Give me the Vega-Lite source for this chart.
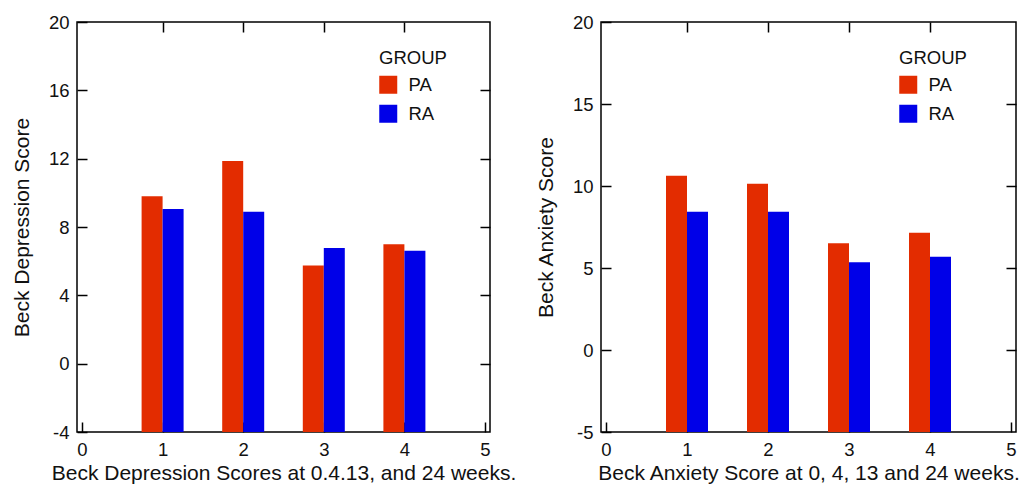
{
  "$schema": "https://vega.github.io/schema/vega-lite/v6.json",
  "padding": {"left": 10, "top": 12, "right": 0, "bottom": 2},
  "spacing": 17,
  "datasets": {
    "depression": [
      {"week": 1, "group": "PA", "score": 9.80},
      {"week": 1, "group": "RA", "score": 9.05},
      {"week": 2, "group": "PA", "score": 11.86},
      {"week": 2, "group": "RA", "score": 8.90},
      {"week": 3, "group": "PA", "score": 5.74},
      {"week": 3, "group": "RA", "score": 6.77},
      {"week": 4, "group": "PA", "score": 6.99},
      {"week": 4, "group": "RA", "score": 6.61}
    ],
    "anxiety": [
      {"week": 1, "group": "PA", "score": 10.63},
      {"week": 1, "group": "RA", "score": 8.43},
      {"week": 2, "group": "PA", "score": 10.14},
      {"week": 2, "group": "RA", "score": 8.43},
      {"week": 3, "group": "PA", "score": 6.51},
      {"week": 3, "group": "RA", "score": 5.35},
      {"week": 4, "group": "PA", "score": 7.15},
      {"week": 4, "group": "RA", "score": 5.68}
    ]
  },
  "hconcat": [
    {
      "width": 413,
      "height": 410,
      "data": {"name": "depression"},
      "layer": [
        {
          "transform": [{"filter": "datum.group === 'PA'"}],
          "mark": {"type": "bar", "size": 21, "xOffset": -10.5},
          "encoding": {
            "x": {"field": "week", "type": "quantitative", "scale": {"domain": [0, 5], "nice": false, "zero": false},
                  "axis": {"orient": "bottom", "values": [0, 1, 2, 3, 4, 5], "labelFlush": false, "title": "Beck Depression Scores at 0.4.13, and 24 weeks."}},
            "y": {"field": "score", "type": "quantitative", "scale": {"domain": [-4, 20], "nice": false, "zero": false},
                  "axis": {"orient": "left", "values": [-4, 0, 4, 8, 12, 16, 20], "title": "Beck Depression Score"}},
            "y2": {"datum": -4},
            "color": {"field": "group", "type": "nominal", "scale": {"domain": ["PA", "RA"], "range": ["#e32c00", "#0000e8"]},
                      "legend": {"orient": "none", "legendX": 302, "legendY": 27, "title": "GROUP"}}
          }
        },
        {
          "transform": [{"filter": "datum.group === 'RA'"}],
          "mark": {"type": "bar", "size": 21, "xOffset": 10.5},
          "encoding": {
            "x": {"field": "week", "type": "quantitative", "scale": {"domain": [0, 5], "nice": false, "zero": false},
                  "axis": {"orient": "top", "values": [1, 2, 3, 4], "labels": false, "title": null}},
            "y": {"field": "score", "type": "quantitative", "scale": {"domain": [-4, 20], "nice": false, "zero": false},
                  "axis": {"orient": "right", "values": [0, 4, 8, 12, 16], "labels": false, "title": null}},
            "y2": {"datum": -4},
            "color": {"field": "group", "type": "nominal"}
          }
        }
      ],
      "resolve": {"axis": {"x": "independent", "y": "independent"}}
    },
    {
      "width": 415,
      "height": 410,
      "data": {"name": "anxiety"},
      "layer": [
        {
          "transform": [{"filter": "datum.group === 'PA'"}],
          "mark": {"type": "bar", "size": 21, "xOffset": -10.5},
          "encoding": {
            "x": {"field": "week", "type": "quantitative", "scale": {"domain": [0, 5], "nice": false, "zero": false},
                  "axis": {"orient": "bottom", "values": [0, 1, 2, 3, 4, 5], "labelFlush": false, "title": "Beck Anxiety Score at 0, 4, 13 and 24 weeks."}},
            "y": {"field": "score", "type": "quantitative", "scale": {"domain": [-5, 20], "nice": false, "zero": false},
                  "axis": {"orient": "left", "values": [-5, 0, 5, 10, 15, 20], "title": "Beck Anxiety Score"}},
            "y2": {"datum": -5},
            "color": {"field": "group", "type": "nominal", "scale": {"domain": ["PA", "RA"], "range": ["#e32c00", "#0000e8"]},
                      "legend": {"orient": "none", "legendX": 298, "legendY": 27, "title": "GROUP"}}
          }
        },
        {
          "transform": [{"filter": "datum.group === 'RA'"}],
          "mark": {"type": "bar", "size": 21, "xOffset": 10.5},
          "encoding": {
            "x": {"field": "week", "type": "quantitative", "scale": {"domain": [0, 5], "nice": false, "zero": false},
                  "axis": {"orient": "top", "values": [1, 2, 3, 4], "labels": false, "title": null}},
            "y": {"field": "score", "type": "quantitative", "scale": {"domain": [-5, 20], "nice": false, "zero": false},
                  "axis": {"orient": "right", "values": [0, 5, 10, 15], "labels": false, "title": null}},
            "y2": {"datum": -5},
            "color": {"field": "group", "type": "nominal"}
          }
        }
      ],
      "resolve": {"axis": {"x": "independent", "y": "independent"}}
    }
  ],
  "resolve": {"scale": {"color": "independent"}, "legend": {"color": "independent"}},
  "config": {
    "font": "Liberation Sans",
    "background": "white",
    "view": {"stroke": "black", "strokeWidth": 1.5},
    "axis": {
      "grid": false,
      "domain": false,
      "tickColor": "black",
      "tickSize": -10,
      "tickWidth": 1.5,
      "labelPadding": 18,
      "labelFontSize": 18.5,
      "labelColor": "#111",
      "labelFont": "Liberation Sans",
      "labelExpr": "replace(datum.label, '\u2212', '-')",
      "titleFont": "Liberation Sans",
      "titleFontSize": 21,
      "titleFontWeight": "normal",
      "titleColor": "#111",
      "titlePadding": 4
    },
    "axisLeft": {"titlePadding": 16},
    "legend": {
      "symbolType": "square",
      "symbolSize": 324,
      "symbolStrokeWidth": 0,
      "symbolOpacity": 1,
      "labelFont": "Liberation Sans",
      "titleFont": "Liberation Sans",
      "labelFontSize": 18.5,
      "labelColor": "#111",
      "labelOffset": 11,
      "titleFontSize": 18.5,
      "titleFontWeight": "normal",
      "titleColor": "#111",
      "titlePadding": 8,
      "rowPadding": 10
    }
  }
}
